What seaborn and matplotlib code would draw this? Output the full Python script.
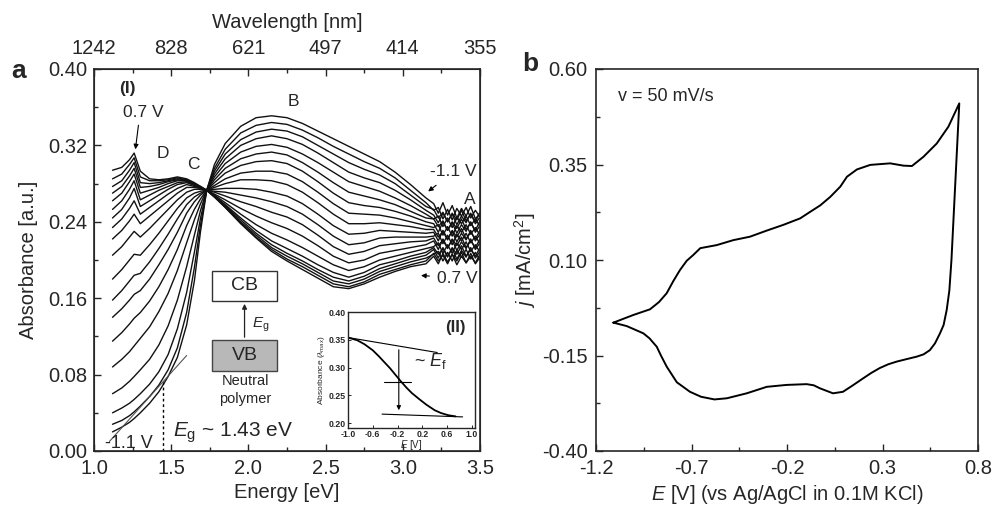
import numpy as np
import pandas as pd
import matplotlib
matplotlib.use("Agg")
import matplotlib.pyplot as plt
import seaborn as sns
from matplotlib.patches import Rectangle
from matplotlib.ticker import MultipleLocator, FixedLocator

sns.set_style("ticks")
plt.rcParams['font.family'] = ['Liberation Sans', 'DejaVu Sans']
plt.rcParams['mathtext.fontset'] = 'custom'
plt.rcParams['mathtext.rm'] = 'Liberation Sans'
plt.rcParams['mathtext.it'] = 'Liberation Sans:italic'
plt.rcParams['axes.unicode_minus'] = False

# ---------------- data: panel a (spectra) ----------------
energy_ev = [1.12, 1.18, 1.23, 1.26, 1.30, 1.36, 1.42, 1.48, 1.54, 1.60, 1.65, 1.69, 1.73,
             1.78, 1.85, 1.95, 2.05, 2.15, 2.25, 2.35, 2.45, 2.55, 2.65, 2.75, 2.85, 2.95, 3.05, 3.15,
             3.20, 3.23, 3.26, 3.29, 3.32, 3.35, 3.38, 3.41, 3.44, 3.47, 3.50]

potential_labels = ['-1.1 V', '-1.0 V', '-0.9 V', '-0.8 V', '-0.7 V', '-0.6 V', '-0.5 V',
                    '-0.4 V', '-0.3 V', '-0.2 V', '-0.1 V', '0.0 V', '0.1 V', '0.2 V',
                    '0.3 V', '0.4 V', '0.5 V', '0.6 V', '0.7 V']

abs_m1p1 = [0.020, 0.025, 0.030, 0.034, 0.040, 0.050, 0.062, 0.078, 0.098, 0.132, 0.178, 0.230, 0.273,
            0.300, 0.322, 0.340, 0.349, 0.351, 0.349, 0.343, 0.335, 0.327, 0.319, 0.311, 0.303, 0.292, 0.279, 0.265,
            0.259, 0.249, 0.260, 0.247, 0.257, 0.244, 0.254, 0.246, 0.256, 0.243, 0.249]
abs_m1p0 = [0.028, 0.032, 0.037, 0.041, 0.047, 0.057, 0.069, 0.085, 0.108, 0.145, 0.192, 0.237, 0.273,
            0.296, 0.316, 0.333, 0.341, 0.344, 0.342, 0.336, 0.328, 0.319, 0.311, 0.303, 0.296, 0.286, 0.273, 0.260,
            0.252, 0.255, 0.243, 0.253, 0.242, 0.254, 0.246, 0.255, 0.244, 0.252, 0.245]
abs_m0p9 = [0.040, 0.045, 0.050, 0.054, 0.060, 0.070, 0.083, 0.101, 0.128, 0.166, 0.208, 0.244, 0.273,
            0.293, 0.311, 0.326, 0.334, 0.337, 0.335, 0.329, 0.320, 0.311, 0.302, 0.295, 0.289, 0.280, 0.268, 0.256,
            0.253, 0.244, 0.250, 0.240, 0.249, 0.242, 0.252, 0.241, 0.248, 0.240, 0.250]
abs_m0p8 = [0.060, 0.066, 0.073, 0.078, 0.085, 0.096, 0.111, 0.131, 0.158, 0.193, 0.226, 0.252, 0.273,
            0.290, 0.306, 0.320, 0.327, 0.330, 0.327, 0.321, 0.312, 0.302, 0.292, 0.286, 0.281, 0.273, 0.263, 0.252,
            0.247, 0.239, 0.249, 0.240, 0.248, 0.237, 0.246, 0.239, 0.249, 0.238, 0.245]
abs_m0p7 = [0.088, 0.096, 0.104, 0.110, 0.118, 0.130, 0.146, 0.165, 0.189, 0.218, 0.242, 0.259, 0.273,
            0.287, 0.301, 0.313, 0.319, 0.321, 0.318, 0.311, 0.302, 0.292, 0.282, 0.277, 0.272, 0.265, 0.257, 0.248,
            0.243, 0.246, 0.235, 0.244, 0.234, 0.245, 0.238, 0.246, 0.236, 0.243, 0.235]
abs_m0p6 = [0.115, 0.124, 0.133, 0.139, 0.145, 0.157, 0.172, 0.190, 0.211, 0.236, 0.253, 0.264, 0.273,
            0.284, 0.296, 0.306, 0.311, 0.313, 0.310, 0.302, 0.292, 0.281, 0.271, 0.267, 0.263, 0.258, 0.251, 0.244,
            0.243, 0.235, 0.241, 0.231, 0.240, 0.233, 0.243, 0.232, 0.239, 0.231, 0.241]
abs_m0p5 = [0.140, 0.149, 0.158, 0.164, 0.168, 0.180, 0.195, 0.211, 0.229, 0.249, 0.261, 0.268, 0.273,
            0.281, 0.291, 0.299, 0.303, 0.304, 0.301, 0.293, 0.282, 0.270, 0.260, 0.257, 0.255, 0.251, 0.246, 0.240,
            0.238, 0.229, 0.240, 0.231, 0.239, 0.228, 0.237, 0.230, 0.240, 0.229, 0.236]
abs_m0p4 = [0.158, 0.168, 0.178, 0.184, 0.186, 0.198, 0.212, 0.227, 0.243, 0.258, 0.266, 0.270, 0.273,
            0.278, 0.285, 0.291, 0.293, 0.293, 0.290, 0.282, 0.271, 0.259, 0.249, 0.248, 0.247, 0.244, 0.240, 0.236,
            0.234, 0.237, 0.226, 0.235, 0.225, 0.236, 0.229, 0.237, 0.227, 0.234, 0.226]
abs_m0p3 = [0.180, 0.190, 0.200, 0.206, 0.205, 0.216, 0.228, 0.241, 0.254, 0.265, 0.270, 0.272, 0.273,
            0.276, 0.280, 0.284, 0.284, 0.283, 0.279, 0.271, 0.260, 0.248, 0.238, 0.238, 0.239, 0.237, 0.235, 0.232,
            0.232, 0.224, 0.230, 0.221, 0.231, 0.224, 0.233, 0.222, 0.229, 0.222, 0.231]
abs_m0p2 = [0.205, 0.214, 0.224, 0.230, 0.224, 0.233, 0.243, 0.253, 0.263, 0.271, 0.274, 0.274, 0.273,
            0.274, 0.275, 0.275, 0.274, 0.271, 0.267, 0.259, 0.248, 0.236, 0.227, 0.228, 0.231, 0.230, 0.229, 0.228,
            0.229, 0.220, 0.231, 0.222, 0.230, 0.219, 0.228, 0.221, 0.231, 0.220, 0.227]
abs_m0p1 = [0.222, 0.231, 0.241, 0.248, 0.238, 0.246, 0.254, 0.262, 0.270, 0.276, 0.276, 0.275, 0.273,
            0.272, 0.271, 0.268, 0.265, 0.261, 0.256, 0.248, 0.237, 0.225, 0.216, 0.218, 0.223, 0.224, 0.224, 0.224,
            0.225, 0.228, 0.217, 0.226, 0.216, 0.227, 0.220, 0.228, 0.218, 0.225, 0.217]
abs_p0p0 = [0.234, 0.243, 0.254, 0.262, 0.248, 0.255, 0.262, 0.269, 0.275, 0.279, 0.277, 0.275, 0.273,
            0.271, 0.267, 0.261, 0.256, 0.250, 0.245, 0.237, 0.226, 0.214, 0.206, 0.209, 0.215, 0.217, 0.219, 0.220,
            0.223, 0.215, 0.221, 0.212, 0.222, 0.215, 0.224, 0.213, 0.220, 0.213, 0.222]
abs_p0p1 = [0.244, 0.253, 0.265, 0.275, 0.256, 0.262, 0.268, 0.274, 0.279, 0.281, 0.278, 0.276, 0.273,
            0.269, 0.263, 0.254, 0.246, 0.239, 0.233, 0.225, 0.215, 0.204, 0.197, 0.200, 0.207, 0.210, 0.213, 0.216,
            0.220, 0.211, 0.222, 0.213, 0.221, 0.210, 0.219, 0.212, 0.222, 0.211, 0.218]
abs_p0p2 = [0.253, 0.262, 0.274, 0.283, 0.263, 0.268, 0.273, 0.277, 0.281, 0.282, 0.279, 0.276, 0.273,
            0.268, 0.260, 0.248, 0.237, 0.228, 0.221, 0.213, 0.204, 0.195, 0.189, 0.193, 0.200, 0.204, 0.208, 0.212,
            0.214, 0.218, 0.207, 0.216, 0.207, 0.218, 0.211, 0.219, 0.209, 0.216, 0.208]
abs_p0p3 = [0.262, 0.270, 0.282, 0.290, 0.270, 0.273, 0.276, 0.280, 0.283, 0.283, 0.279, 0.276, 0.273,
            0.267, 0.258, 0.244, 0.231, 0.220, 0.212, 0.204, 0.195, 0.187, 0.182, 0.187, 0.195, 0.199, 0.204, 0.208,
            0.213, 0.206, 0.212, 0.203, 0.213, 0.206, 0.215, 0.204, 0.211, 0.204, 0.213]
abs_p0p4 = [0.270, 0.277, 0.288, 0.296, 0.276, 0.277, 0.279, 0.282, 0.284, 0.283, 0.280, 0.276, 0.273,
            0.267, 0.257, 0.242, 0.228, 0.216, 0.207, 0.199, 0.190, 0.182, 0.178, 0.183, 0.191, 0.196, 0.201, 0.205,
            0.211, 0.202, 0.213, 0.204, 0.212, 0.201, 0.210, 0.203, 0.213, 0.202, 0.209]
abs_p0p5 = [0.277, 0.283, 0.294, 0.302, 0.281, 0.280, 0.281, 0.283, 0.285, 0.284, 0.280, 0.276, 0.273,
            0.266, 0.256, 0.240, 0.226, 0.213, 0.204, 0.196, 0.187, 0.178, 0.175, 0.180, 0.188, 0.193, 0.198, 0.202,
            0.206, 0.209, 0.199, 0.208, 0.199, 0.210, 0.203, 0.211, 0.201, 0.208, 0.200]
abs_p0p6 = [0.285, 0.290, 0.300, 0.307, 0.287, 0.283, 0.283, 0.284, 0.286, 0.284, 0.280, 0.277, 0.273,
            0.266, 0.255, 0.239, 0.224, 0.211, 0.201, 0.193, 0.184, 0.175, 0.172, 0.177, 0.185, 0.190, 0.195, 0.199,
            0.207, 0.199, 0.205, 0.196, 0.206, 0.199, 0.208, 0.197, 0.204, 0.197, 0.206]
abs_p0p7 = [0.294, 0.297, 0.305, 0.312, 0.293, 0.285, 0.284, 0.285, 0.287, 0.285, 0.281, 0.277, 0.273,
            0.266, 0.255, 0.238, 0.223, 0.209, 0.199, 0.190, 0.181, 0.172, 0.170, 0.175, 0.182, 0.188, 0.193, 0.196,
            0.204, 0.196, 0.207, 0.198, 0.206, 0.195, 0.204, 0.197, 0.207, 0.196, 0.203]

spectra_rows = [abs_m1p1, abs_m1p0, abs_m0p9, abs_m0p8, abs_m0p7, abs_m0p6, abs_m0p5, abs_m0p4,
                abs_m0p3, abs_m0p2, abs_m0p1, abs_p0p0, abs_p0p1, abs_p0p2, abs_p0p3, abs_p0p4,
                abs_p0p5, abs_p0p6, abs_p0p7]

energy_ticks = [1.0, 1.5, 2.0, 2.5, 3.0, 3.5]
energy_ticklabels = ['1.0', '1.5', '2.0', '2.5', '3.0', '3.5']
wavelength_ticklabels = ['1242', '828', '621', '497', '414', '355']
absorb_ticks = [0.00, 0.08, 0.16, 0.24, 0.32, 0.40]
absorb_ticklabels = ['0.00', '0.08', '0.16', '0.24', '0.32', '0.40']

# band-gap construction
tangent_E = [1.10, 1.60]
tangent_A = [0.010, 0.100]
eg_energy = 1.45
eg_abs = 0.072

# inset (II)
inset_potential = [-1.0, -0.85, -0.735, -0.60, -0.50, -0.40, -0.324, -0.25, -0.147, -0.05,
                   0.03, 0.15, 0.265, 0.40, 0.50, 0.62, 0.735]
inset_abs = [0.354, 0.349, 0.342, 0.331, 0.320, 0.308, 0.299, 0.289, 0.275, 0.263,
             0.254, 0.243, 0.233, 0.223, 0.218, 0.214, 0.212]
inset_upper_E = [-1.0, 0.44]
inset_upper_A = [0.354, 0.327]
inset_lower_E = [-0.45, 0.85]
inset_lower_A = [0.216, 0.211]
inset_mid_E = [-0.42, 0.02]
inset_mid_A = [0.274, 0.274]
inset_ticks_x = [-1.0, -0.6, -0.2, 0.2, 0.6, 1.0]
inset_ticks_y = [0.20, 0.25, 0.30, 0.35, 0.40]

# ---------------- data: panel b (CV) ----------------
cv_potential = [-1.109, -1.005, -0.917, -0.870, -0.830, -0.795, -0.760, -0.725, -0.691, -0.654,
                -0.568, -0.481, -0.394, -0.306, -0.219, -0.131, -0.079, -0.026, 0.026, 0.079,
                0.114, 0.166, 0.236, 0.340, 0.410, 0.454, 0.514, 0.584, 0.645, 0.702,
                0.661, 0.650, 0.636, 0.620, 0.601, 0.575, 0.548, 0.515, 0.479, 0.430,
                0.374, 0.330, 0.285, 0.240, 0.198, 0.145, 0.093, 0.041, -0.027, -0.060,
                -0.097, -0.150, -0.202, -0.306, -0.411, -0.515, -0.580, -0.610, -0.650, -0.708,
                -0.777, -0.830, -0.860, -0.882, -0.920, -0.952, -1.039, -1.109]
cv_current = [-0.064, -0.044, -0.029, -0.010, 0.013, 0.045, 0.074, 0.098, 0.113, 0.131,
              0.139, 0.152, 0.161, 0.177, 0.192, 0.209, 0.226, 0.243, 0.265, 0.292,
              0.318, 0.337, 0.349, 0.353, 0.347, 0.346, 0.370, 0.405, 0.449, 0.510,
              0.100, 0.020, -0.031, -0.070, -0.092, -0.118, -0.136, -0.147, -0.153, -0.159,
              -0.166, -0.173, -0.183, -0.196, -0.210, -0.228, -0.245, -0.249, -0.236, -0.228,
              -0.225, -0.226, -0.227, -0.232, -0.249, -0.262, -0.265, -0.262, -0.258, -0.245,
              -0.220, -0.179, -0.150, -0.127, -0.105, -0.092, -0.073, -0.064]
cv_xticks = [-1.2, -0.7, -0.2, 0.3, 0.8]
cv_xticklabels = ['-1.2', '-0.7', '-0.2', '0.3', '0.8']
cv_yticks = [-0.40, -0.15, 0.10, 0.35, 0.60]
cv_yticklabels = ['-0.40', '-0.15', '0.10', '0.35', '0.60']

# ---------------- figure ----------------
W, H = 992, 507
fig = plt.figure(figsize=(W / 100, H / 100), dpi=100)
axa = fig.add_axes([94 / W, 1 - 451 / H, 386 / W, 382 / H])
axb = fig.add_axes([596 / W, 1 - 451 / H, 382 / W, 382 / H])

FS = 14.5
records = []
for lab, row in zip(potential_labels, spectra_rows):
    for e, a in zip(energy_ev, row):
        records.append((e, a, lab))
df = pd.DataFrame(records, columns=['energy', 'absorbance', 'potential'])
sns.lineplot(data=df, x='energy', y='absorbance', hue='potential',
             palette={lab: '#111111' for lab in potential_labels},
             estimator=None, sort=False, legend=False, linewidth=1.0, ax=axa)

axa.set_xlim(1.0, 3.5)
axa.set_ylim(0.0, 0.40)
axa.set_xticks(energy_ticks)
axa.set_xticklabels(energy_ticklabels)
axa.set_yticks(absorb_ticks)
axa.set_yticklabels(absorb_ticklabels)
axa.xaxis.set_minor_locator(MultipleLocator(0.25))
axa.yaxis.set_minor_locator(MultipleLocator(0.04))
axa.tick_params(axis='both', which='both', direction='in', top=False, right=False,
                labelsize=FS, width=1.0)
axa.tick_params(axis='both', which='major', length=5)
axa.tick_params(axis='both', which='minor', length=3)
axa.tick_params(axis='x', pad=6)
axa.tick_params(axis='y', pad=5)
axa.set_xlabel('Energy [eV]', fontsize=FS, labelpad=3)
axa.set_ylabel('Absorbance [a.u.]', fontsize=FS, labelpad=7)
for s in axa.spines.values():
    s.set_linewidth(1.2)

axt = axa.twiny()
axt.set_xlim(1.0, 3.5)
axt.set_xticks(energy_ticks)
axt.set_xticklabels(wavelength_ticklabels)
axt.xaxis.set_minor_locator(MultipleLocator(0.25))
axt.tick_params(axis='x', which='both', direction='in', labelsize=FS, pad=8, width=1.0)
axt.tick_params(axis='x', which='major', length=5)
axt.tick_params(axis='x', which='minor', length=3)
axt.set_xlabel('Wavelength [nm]', fontsize=FS, labelpad=8)

# band gap construction
axa.plot(tangent_E, tangent_A, color='#555555', lw=0.8)
axa.plot([eg_energy, eg_energy], [0.0, eg_abs], color='k', lw=1.0, ls=(0, (2, 2)))
axa.text(1.90, 0.019, r'$E_\mathrm{g}$ ~ 1.43 eV', fontsize=15, ha='center', va='center')
axa.text(1.225, 0.008, '-1.1 V', fontsize=13, ha='center', va='center')

# labels on spectra
axa.text(1.217, 0.380, '(I)', fontsize=12.5, fontweight='bold', ha='center', va='center')
axa.text(1.32, 0.354, '0.7 V', fontsize=12.5, ha='center', va='center')
axa.annotate('', xy=(1.266, 0.313), xytext=(1.29, 0.344),
             arrowprops=dict(arrowstyle='-|>', color='k', lw=0.8, mutation_scale=7))
axa.text(1.449, 0.312, 'D', fontsize=12.5, ha='center', va='center')
axa.text(1.643, 0.2995, 'C', fontsize=12.5, ha='center', va='center')
axa.text(2.291, 0.366, 'B', fontsize=12.5, ha='center', va='center')
axa.text(3.327, 0.2925, '-1.1 V', fontsize=12.5, ha='center', va='center')
axa.annotate('', xy=(3.15, 0.270), xytext=(3.23, 0.280),
             arrowprops=dict(arrowstyle='-|>', color='k', lw=0.8, mutation_scale=7))
axa.text(3.435, 0.263, 'A', fontsize=12.5, ha='center', va='center')
axa.text(3.35, 0.181, '0.7 V', fontsize=12.5, ha='center', va='center')
axa.annotate('', xy=(3.10, 0.184), xytext=(3.19, 0.183),
             arrowprops=dict(arrowstyle='-|>', color='k', lw=0.8, mutation_scale=7))

# CB / VB diagram
axa.add_patch(Rectangle((1.766, 0.157), 0.417, 0.0318, facecolor='white',
                        edgecolor='#333333', lw=1.0, zorder=3))
axa.add_patch(Rectangle((1.766, 0.0841), 0.417, 0.0321, facecolor='#b8b8b8',
                        edgecolor='#444444', lw=1.0, zorder=3))
axa.text(1.975, 0.173, 'CB', fontsize=14, ha='center', va='center', zorder=4)
axa.text(1.975, 0.100, 'VB', fontsize=14, ha='center', va='center', zorder=4)
axa.annotate('', xy=(1.975, 0.157), xytext=(1.975, 0.1162),
             arrowprops=dict(arrowstyle='-|>', color='#222222', lw=0.9, mutation_scale=7))
axa.text(2.08, 0.132, r'$E_\mathrm{g}$', fontsize=11, ha='center', va='center')
axa.text(1.978, 0.0736, 'Neutral', fontsize=10.5, ha='center', va='center')
axa.text(1.978, 0.0545, 'polymer', fontsize=10.5, ha='center', va='center')

fig.text(19 / W, 1 - 71 / H, 'a', fontsize=19, fontweight='bold', ha='center', va='center')
fig.text(530 / W, 1 - 64 / H, 'b', fontsize=19, fontweight='bold', ha='center', va='center')

# inset (II)
axi = fig.add_axes([348 / W, 1 - 428 / H, 127 / W, 116 / H])
axi.set_facecolor('white')
sns.lineplot(x=inset_potential, y=inset_abs, color='k', lw=1.3, sort=False,
             estimator=None, ax=axi)
axi.plot(inset_upper_E, inset_upper_A, color='k', lw=0.8)
axi.plot(inset_lower_E, inset_lower_A, color='k', lw=0.8)
axi.plot(inset_mid_E, inset_mid_A, color='k', lw=0.8)
axi.annotate('', xy=(-0.18, 0.218), xytext=(-0.18, 0.337),
             arrowprops=dict(arrowstyle='-|>', color='k', lw=0.8, mutation_scale=6))
axi.text(0.33, 0.312, r'~ $E_\mathrm{f}$', fontsize=13, ha='center', va='center')
axi.text(0.73, 0.372, '(II)', fontsize=12, fontweight='bold', ha='center', va='center')
axi.set_xlim(-1.0, 1.05)
axi.set_ylim(0.191, 0.40)
axi.set_xticks(inset_ticks_x)
axi.set_xticklabels(['-1.0', '-0.6', '-0.2', '0.2', '0.6', '1.0'])
axi.set_yticks(inset_ticks_y)
axi.set_yticklabels(['0.20', '0.25', '0.30', '0.35', '0.40'])
axi.tick_params(axis='both', which='both', direction='in', labelsize=6.3, pad=1.5,
                length=2, width=0.7)
for lab in axi.get_xticklabels() + axi.get_yticklabels():
    lab.set_fontweight('bold')
axi.set_xlabel(r'$E$ [V]', fontsize=7, labelpad=-1)
axi.set_ylabel(r'Absorbance ($\lambda_{max}$)', fontsize=6, labelpad=1)
for s in axi.spines.values():
    s.set_linewidth(1.0)

# ---------------- panel b ----------------
sns.lineplot(x=cv_potential, y=cv_current, sort=False, estimator=None, color='k',
             lw=1.4, ax=axb)
axb.set_xlim(-1.2, 0.8)
axb.set_ylim(-0.40, 0.60)
axb.set_xticks(cv_xticks)
axb.set_xticklabels(cv_xticklabels)
axb.set_yticks(cv_yticks)
axb.set_yticklabels(cv_yticklabels)
axb.xaxis.set_minor_locator(FixedLocator([-0.95, -0.45, 0.05, 0.55]))
axb.yaxis.set_minor_locator(FixedLocator([-0.275, -0.025, 0.225, 0.475]))
axb.tick_params(axis='both', which='both', direction='in', top=False, right=False,
                labelsize=FS, width=1.0)
axb.tick_params(axis='both', which='major', length=5)
axb.tick_params(axis='both', which='minor', length=3)
axb.tick_params(axis='x', pad=6)
axb.tick_params(axis='y', pad=6)
axb.set_xlabel(r'$E$ [V] (vs Ag/AgCl in 0.1M KCl)', fontsize=FS, labelpad=3)
axb.set_ylabel(r'$j$ [mA/cm$^2$]', fontsize=FS, labelpad=3)
axb.text(-1.085, 0.527, 'v = 50 mV/s', fontsize=13, ha='left', va='center')
for s in axb.spines.values():
    s.set_linewidth(1.2)

fig.savefig('out.png', dpi=100)
